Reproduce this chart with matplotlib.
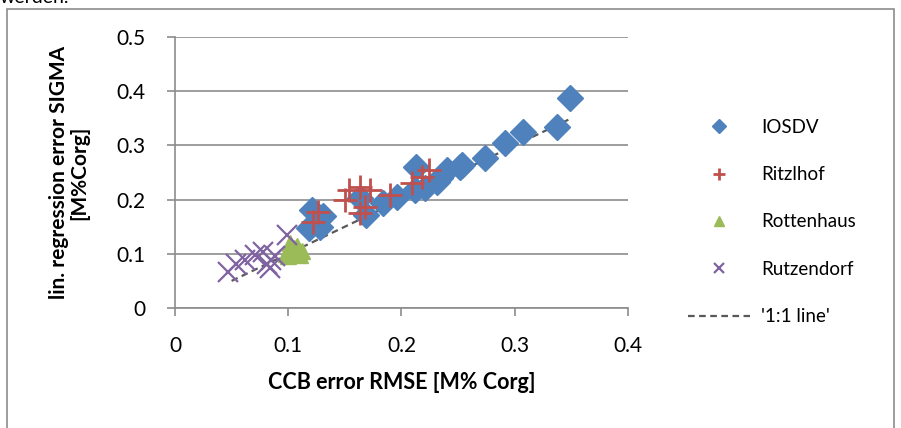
import numpy as np
import matplotlib.pyplot as plt

# CCB error RMSE (x) vs lin. regression error SIGMA (y)
iosdv_x = [0.349, 0.337, 0.307, 0.291, 0.274, 0.253, 0.252, 0.240, 0.234, 0.231,
           0.221, 0.213, 0.212, 0.196, 0.184, 0.169, 0.163, 0.121, 0.128, 0.118,
           0.131, 0.125]
iosdv_y = [0.387, 0.334, 0.325, 0.304, 0.276, 0.264, 0.261, 0.255, 0.240, 0.233,
           0.221, 0.261, 0.218, 0.205, 0.193, 0.172, 0.203, 0.181, 0.150, 0.148,
           0.170, 0.160]

ritz_x = [0.1265, 0.122, 0.154, 0.163, 0.172, 0.150, 0.168, 0.163, 0.190, 0.209,
          0.218, 0.224]
ritz_y = [0.178, 0.159, 0.218, 0.224, 0.218, 0.199, 0.187, 0.175, 0.208, 0.230,
          0.242, 0.255]

rott_x = [0.103, 0.107, 0.110, 0.100, 0.105, 0.112, 0.098, 0.108, 0.102]
rott_y = [0.105, 0.100, 0.098, 0.095, 0.110, 0.105, 0.100, 0.115, 0.120]

rutz_x = [0.047, 0.054, 0.062, 0.071, 0.078, 0.081, 0.084, 0.085, 0.099, 0.088]
rutz_y = [0.067, 0.082, 0.089, 0.098, 0.104, 0.082, 0.073, 0.089, 0.135, 0.095]

line_x = [0.05, 0.35]

blue = '#4F81BD'
red = '#C0504D'
green = '#9BBB59'
purple = '#8064A2'
gray = '#8C8C8C'

plt.rcParams['font.family'] = ['Lato', 'DejaVu Sans']

fig = plt.figure(figsize=(9.01, 4.28), dpi=100)
ax = fig.add_axes([0.1942, 0.2804, 0.697 - 0.1942, 0.9136 - 0.2804])

ax.plot(line_x, line_x, linestyle=(0, (3, 2)), color='#595959', lw=1.6,
        label="'1:1 line'", zorder=2)
ax.plot(iosdv_x, iosdv_y, 'D', color=blue, ms=13, mec=blue, label='IOSDV', zorder=3)
ax.plot(ritz_x, ritz_y, '+', color=red, ms=17, mew=2, label='Ritzlhof', zorder=4)
ax.plot(rott_x, rott_y, '^', color=green, ms=12, mec=green, label='Rottenhaus', zorder=4)
ax.plot(rutz_x, rutz_y, 'x', color=purple, ms=14, mew=1.6, label='Rutzendorf', zorder=5)

ax.set_xlim(0, 0.4)
ax.set_ylim(0, 0.5)
ax.set_xticks(np.arange(0, 0.41, 0.1))
ax.set_yticks(np.arange(0, 0.51, 0.1))
ax.set_xticklabels(['0', '0.1', '0.2', '0.3', '0.4'])
ax.set_yticklabels(['0', '0.1', '0.2', '0.3', '0.4', '0.5'])
ax.tick_params(axis='both', labelsize=15, color=gray, length=6, width=1.2)
ax.tick_params(axis='x', pad=14)
ax.tick_params(axis='y', pad=15)
ax.yaxis.grid(True, color=gray, lw=1.2)
ax.set_axisbelow(True)
for s in ['top', 'right']:
    ax.spines[s].set_visible(False)
for s in ['left', 'bottom']:
    ax.spines[s].set_color(gray)
    ax.spines[s].set_linewidth(1.2)

ax.set_xlabel('CCB error RMSE [M% Corg]', fontsize=15.5, fontweight='bold', labelpad=12)
ax.set_ylabel('lin. regression error SIGMA\n[M%Corg]', fontsize=15,
              fontweight='bold', labelpad=20, linespacing=1.0)

handles, labels = ax.get_legend_handles_labels()
order = [1, 2, 3, 4, 0]
leg = fig.legend([handles[i] for i in order], [labels[i] for i in order],
                 loc='upper left', bbox_to_anchor=(0.745, 0.762), frameon=False,
                 fontsize=13.5, markerscale=0.55, handlelength=3.3,
                 handletextpad=0.6, labelspacing=1.62)

# outer chart frame
fig.patches.append(plt.Rectangle((0.008, -0.05), 0.984, 1.03, transform=fig.transFigure,
                                 fill=False, edgecolor='#8C8C8C', lw=1.2))
fig.text(0.0, 1.005, 'werden.', fontsize=14, va='center', ha='left')

fig.savefig('out.png', dpi=100)
